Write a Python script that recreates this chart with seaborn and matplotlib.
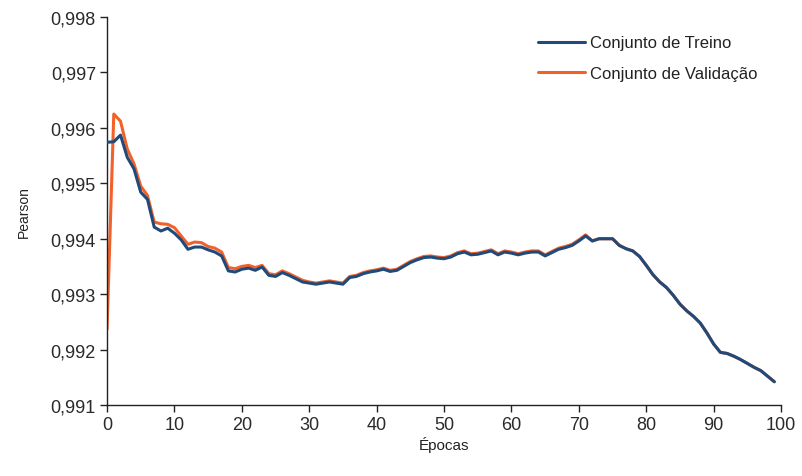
import numpy as np
import pandas as pd
import matplotlib
matplotlib.use("Agg")
import matplotlib.pyplot as plt
import seaborn as sns
from matplotlib.ticker import FuncFormatter
from matplotlib.lines import Line2D

epochs = list(range(100))

train = [
    0.99574, 0.99575, 0.99587, 0.99547, 0.99526, 0.99484, 0.99471, 0.99421, 0.99414, 0.99419,
    0.99410, 0.99398, 0.99381, 0.99385, 0.99385, 0.99380, 0.99376, 0.99369, 0.99342, 0.99340,
    0.99345, 0.99347, 0.99343, 0.99349, 0.99334, 0.99332, 0.99339, 0.99334, 0.99328, 0.99322,
    0.99320, 0.99318, 0.99320, 0.99322, 0.99320, 0.99318, 0.99330, 0.99332, 0.99337, 0.99340,
    0.99342, 0.99345, 0.99341, 0.99343, 0.99350, 0.99357, 0.99362, 0.99366, 0.99367, 0.99365,
    0.99364, 0.99367, 0.99373, 0.99376, 0.99371, 0.99372, 0.99375, 0.99378, 0.99371, 0.99376,
    0.99374, 0.99371, 0.99374, 0.99376, 0.99376, 0.99369, 0.99375, 0.99381, 0.99384, 0.99388,
    0.99396, 0.99405, 0.99396, 0.99400, 0.99400, 0.99400, 0.99388, 0.99382, 0.99378, 0.99368,
    0.99352, 0.99335, 0.99322, 0.99312, 0.99298, 0.99282, 0.99270, 0.99260, 0.99248, 0.99230,
    0.99210, 0.99195, 0.99193, 0.99188, 0.99182, 0.99175, 0.99168, 0.99162, 0.99152, 0.99142,
]

valid = [
    0.99237, 0.99625, 0.99612, 0.99562, 0.99535, 0.99495, 0.99478, 0.99430, 0.99427, 0.99426,
    0.99420, 0.99405, 0.99390, 0.99394, 0.99393, 0.99386, 0.99383, 0.99376, 0.99348, 0.99346,
    0.99350, 0.99352, 0.99348, 0.99352, 0.99337, 0.99335, 0.99342, 0.99337, 0.99331, 0.99325,
    0.99322, 0.99320, 0.99322, 0.99324, 0.99322, 0.99320, 0.99332, 0.99334, 0.99339, 0.99342,
    0.99344, 0.99347, 0.99343, 0.99345, 0.99352, 0.99359, 0.99364, 0.99368, 0.99369, 0.99367,
    0.99366, 0.99369, 0.99375, 0.99378, 0.99373, 0.99374, 0.99377, 0.99380, 0.99373, 0.99378,
    0.99376, 0.99373, 0.99376, 0.99378, 0.99378, 0.99371, 0.99377, 0.99383, 0.99386, 0.99390,
    0.99398, 0.99407, 0.99396, 0.99400, 0.99400, 0.99400, 0.99388, 0.99382, 0.99378, 0.99368,
    0.99352, 0.99335, 0.99322, 0.99312, 0.99298, 0.99282, 0.99270, 0.99260, 0.99248, 0.99230,
    0.99210, 0.99195, 0.99193, 0.99188, 0.99182, 0.99175, 0.99168, 0.99162, 0.99152, 0.99142,
]

series_names = ["Conjunto de Treino", "Conjunto de Validação"]
x_ticks = [0, 10, 20, 30, 40, 50, 60, 70, 80, 90, 100]
y_ticks = [0.991, 0.992, 0.993, 0.994, 0.995, 0.996, 0.997, 0.998]

sns.set_theme(style="white")
plt.rcParams['font.family'] = ['Liberation Sans', 'DejaVu Sans']

fig = plt.figure(figsize=(8.03, 4.77), dpi=100)
ax = fig.add_axes([0.1333, 0.1488, 0.8394, 0.8134])

blue = "#1F4A7A"
orange = "#F2612A"

sns.lineplot(x=epochs, y=valid, ax=ax, color=orange, linewidth=2.2, zorder=2)
sns.lineplot(x=epochs, y=train, ax=ax, color=blue, linewidth=2.2, zorder=3)

ax.set_xlim(0, 100)
ax.set_ylim(0.991, 0.998)
ax.set_xticks(x_ticks)
ax.set_yticks(y_ticks)
ax.yaxis.set_major_formatter(FuncFormatter(lambda v, p: f"{v:.3f}".replace(".", ",")))

for s in ["top", "right"]:
    ax.spines[s].set_visible(False)
for s in ["left", "bottom"]:
    ax.spines[s].set_color("#222222")
    ax.spines[s].set_linewidth(1.0)

ax.tick_params(axis="both", which="major", direction="out", length=5, width=1,
               color="#222222", labelsize=13, labelcolor="#2a2a2a", pad=3,
               bottom=True, left=True)
ax.set_xlabel("Épocas", fontsize=11, color="#222222", labelpad=2)
ax.set_ylabel("Pearson", fontsize=10, color="#222222", labelpad=14)

handles = [Line2D([0], [0], color=blue, linewidth=2.2),
           Line2D([0], [0], color=orange, linewidth=2.2)]
leg = ax.legend(handles, series_names, loc="upper left", bbox_to_anchor=(0.63, 0.97),
                frameon=False, fontsize=12, handlelength=2.8, handletextpad=0.3,
                labelspacing=0.95, borderaxespad=0.0)
for t in leg.get_texts():
    t.set_color("#222222")

fig.savefig("out.png", dpi=100, facecolor="white")
